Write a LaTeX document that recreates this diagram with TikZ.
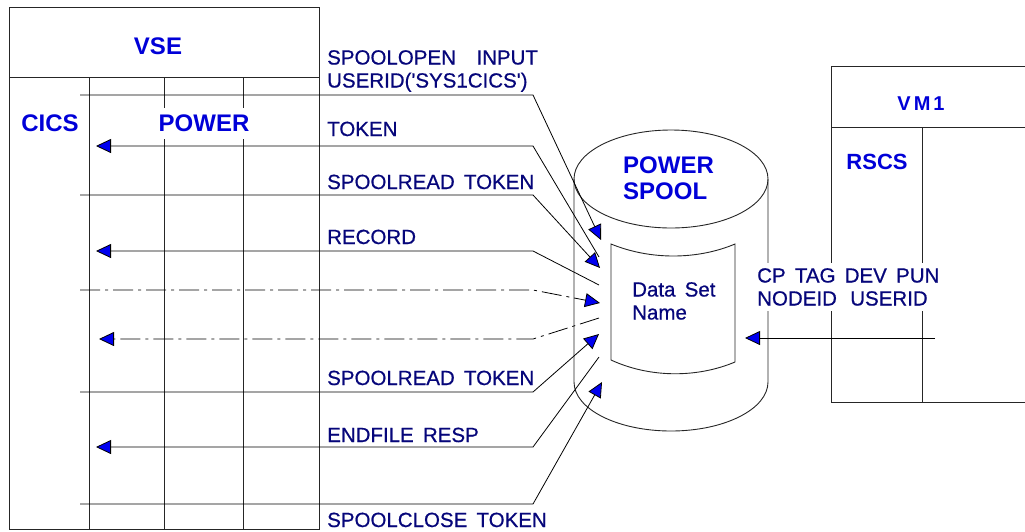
\documentclass[tikz,border=0pt]{standalone}
\usepackage{fontspec}
\setmainfont{Liberation Sans}
\newfontfamily\labelfont[FakeBold=0.6]{Liberation Sans}
\usetikzlibrary{arrows.meta,positioning}
\definecolor{headblue}{HTML}{0000D8}
\definecolor{labelnavy}{HTML}{06067A}
\definecolor{tipblue}{HTML}{0000F0}
\newcommand{\wsp}{\hspace{0.45em}}
\tikzset{
  frame/.style={draw=black!85,line width=0.9pt},
  msg/.style={black,line width=0.8pt,-{Triangle[length=15pt,width=14pt,fill=tipblue]}},
  msgdash/.style={msg,dash pattern=on 20pt off 5pt on 3pt off 5pt},
  head/.style={font=\fontsize{24}{26}\selectfont\bfseries,text=headblue,inner sep=1pt},
  msglabel/.style={font=\labelfont\fontsize{20.5}{23}\selectfont,text=labelnavy,inner sep=0pt,align=left},
  gapbox/.style={fill=white}
}
\begin{document}
\begin{tikzpicture}[x=1pt,y=-1pt]
\useasboundingbox (0,0) rectangle (1025,531);
\draw[frame] (9,7) rectangle (319,529);
\draw[frame] (9,77) -- (319,77);
\foreach \x in {89,164,243}{\draw[frame] (\x,77) -- (\x,529);}
\draw[frame] (1025,66) -- (831,66) -- (831,402) -- (1025,402);
\draw[frame] (831,127) -- (1025,127);
\draw[frame] (922,127) -- (922,402);
% spool
\draw[frame] (671,179) ellipse [x radius=97pt,y radius=49pt];
\draw[frame] (574,179) -- (574,382) arc[start angle=180,end angle=360,x radius=97pt,y radius=49pt] -- (768,179);
\draw[frame] (611,244) .. controls (650,260) and (697,260) .. (735,244) -- (735,362)
  .. controls (697,378) and (650,378) .. (611,360) -- cycle;
\node[head,anchor=center] (vse) at (158,46) {VSE};
\node[head,anchor=center] (cics) at (50,123) {CICS};
\node[head,anchor=center,gapbox,inner ysep=7pt] (power) at (204,123) {POWER};
\node[head,anchor=north west,align=left,inner sep=0pt] (spool) at (623,157) {POWER\\SPOOL};
\node[head,anchor=center,font=\fontsize{20}{22}\selectfont\bfseries] (vm) at (921,104) {V\hspace{3pt}M\hspace{3pt}1};
\node[head,anchor=center,font=\fontsize{22}{24}\selectfont\bfseries] (rscs) at (877,162) {RSCS};
\node[msglabel,anchor=north west] (dsn) at (632,282) {Data\wsp Set\\Name};
\node[msglabel,anchor=north west,gapbox,inner xsep=4pt,inner ysep=5pt] (cp) at (753,263)
  {CP\wsp TAG\wsp DEV\wsp PUN\\NODEID\hspace{0.65em}USERID};
% labels
\node[msglabel,anchor=north west] (l-open) at (327,50)
  {SPOOLOPEN\hspace{1em}INPUT\\USERID(\textquotesingle SYS1CICS\textquotesingle)};
\node[msglabel,anchor=base west] (l-token) at (327,136) {TOKEN};
\node[msglabel,anchor=base west] (l-read) at (327,189) {SPOOLREAD\wsp TOKEN};
\node[msglabel,anchor=base west] (l-record) at (327,244) {RECORD};
\node[msglabel,anchor=base west] (l-reread) at (327,385) {SPOOLREAD\wsp TOKEN};
\node[msglabel,anchor=base west] (l-end) at (327,442) {ENDFILE\wsp RESP};
\node[msglabel,anchor=base west] (l-close) at (327,527) {SPOOLCLOSE\wsp TOKEN};
% connectors
\coordinate (bend) at (533,0);
\coordinate (open-a) at (80,95);     \coordinate (open-b) at (601,240);
\coordinate (token-a) at (599,257);  \coordinate (token-b) at (96,146);
\coordinate (read-a) at (80,195);    \coordinate (read-b) at (600,268);
\coordinate (record-a) at (599,285); \coordinate (record-b) at (96,251);
\coordinate (data-a) at (80,290);    \coordinate (data-b) at (600,303);
\coordinate (back-a) at (599,318);   \coordinate (back-b) at (99,339);
\coordinate (reread-a) at (80,392);  \coordinate (reread-b) at (599,334);
\coordinate (end-a) at (599,357);    \coordinate (end-b) at (96,447);
\coordinate (close-a) at (80,504);   \coordinate (close-b) at (602,382);
\coordinate (tag-a) at (935,338);    \coordinate (tag-b) at (745,338);
\draw[msg] (open-a) -- (open-a -| bend) -- (open-b);
\draw[msg] (token-a) -- (token-b -| bend) -- (token-b);
\draw[msg] (read-a) -- (read-a -| bend) -- (read-b);
\draw[msg] (record-a) -- (record-b -| bend) -- (record-b);
\draw[msgdash] (data-a) -- (data-a -| bend) -- (data-b);
\draw[msgdash] (back-a) -- (back-b -| bend) -- (back-b);
\draw[msg] (reread-a) -- (reread-a -| bend) -- (reread-b);
\draw[msg] (end-a) -- (end-b -| bend) -- (end-b);
\draw[msg] (close-a) -- (close-a -| bend) -- (close-b);
\draw[msg] (tag-a) -- (tag-b);
\end{tikzpicture}
\end{document}
